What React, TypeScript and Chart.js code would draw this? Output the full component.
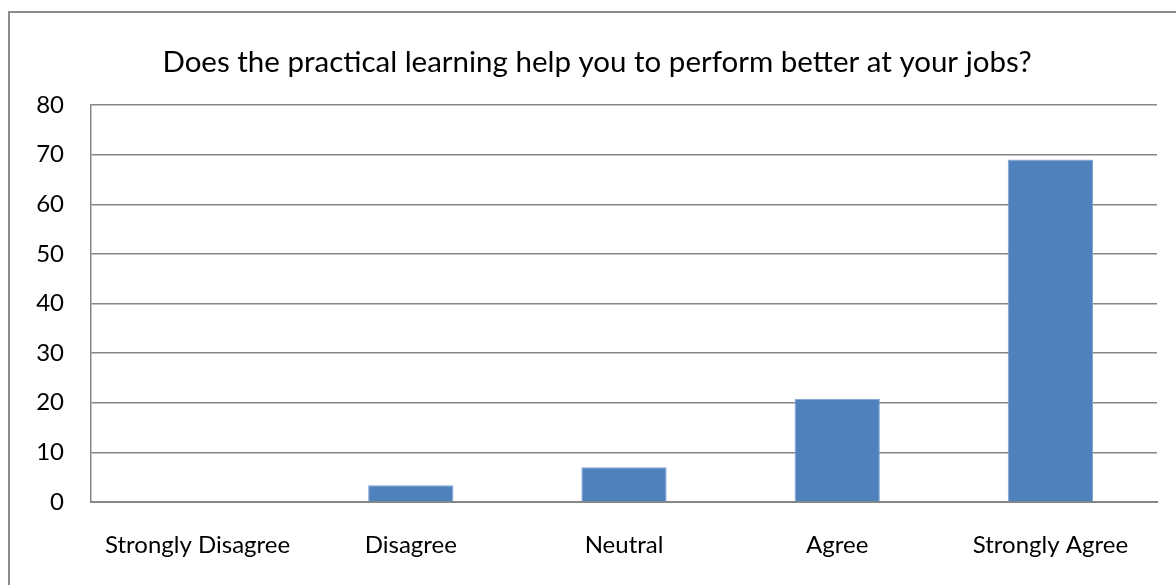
import React, { useEffect, useRef } from "react";
import { Chart, registerables } from "chart.js";

Chart.register(...registerables);

const categories = ["Strongly Disagree", "Disagree", "Neutral", "Agree", "Strongly Agree"];
const values = [0, 3.4, 7, 20.8, 69];
const yTicks = [0, 10, 20, 30, 40, 50, 60, 70, 80];
const titleText = "Does the practical learning help you to perform better at your jobs?";

export default function App() {
  const ref = useRef<HTMLCanvasElement | null>(null);

  useEffect(() => {
    if (!ref.current) return;
    const font = "Lato";
    const titlePlugin = {
      id: "customTitle",
      afterDraw(chart: any) {
        const ctx = chart.ctx;
        ctx.save();
        ctx.font = `normal 29.5px ${font}`;
        ctx.fillStyle = "#000";
        ctx.textAlign = "center";
        ctx.textBaseline = "middle";
        ctx.fillText(titleText, 597, 62);
        ctx.restore();
      },
    };
    const chart = new Chart(ref.current, {
      type: "bar",
      data: {
        labels: categories,
        datasets: [
          {
            data: values,
            backgroundColor: "#4F81BD",
            borderColor: "#7FA3D3",
            borderWidth: 1,
            barPercentage: 0.4,
            categoryPercentage: 1,
          },
        ],
      },
      options: {
        animation: false,
        responsive: false,
        layout: { padding: { left: 0, right: 19, top: 105, bottom: 0 } },
        plugins: {
          legend: { display: false },
          tooltip: { enabled: false },
          title: { display: false },
        },
        scales: {
          x: {
            grid: { display: false, drawTicks: false },
            border: { display: true, color: "#868686", width: 2 },
            ticks: {
              color: "#000",
              font: { family: font, size: 24 },
              padding: 29,
              maxRotation: 0,
            },
            afterFit: (s: any) => {
              s.height = 83;
            },
          },
          y: {
            min: 0,
            max: 80,
            afterBuildTicks: (s: any) => {
              s.ticks = yTicks.map((v) => ({ value: v }));
            },
            grid: { color: "#868686", lineWidth: 1.5, drawTicks: false },
            border: { display: true, color: "#868686", width: 1.5 },
            ticks: {
              color: "#000",
              font: { family: font, size: 24 },
              padding: 27,
            },
            afterFit: (s: any) => {
              s.width = 91;
            },
          },
        },
      },
      plugins: [titlePlugin],
    });
    return () => chart.destroy();
  }, []);

  return (
    <div style={{ position: "fixed", left: 0, top: 0, width: 1176, height: 585, background: "#fff", overflow: "hidden" }}>
      <div
        style={{
          position: "absolute",
          left: 8,
          top: 11,
          width: 1220,
          height: 620,
          border: "2px solid #8c8c8c",
        }}
      />
      <canvas ref={ref} width={1176} height={585} style={{ position: "absolute", left: 0, top: 0 }} />
    </div>
  );
}
